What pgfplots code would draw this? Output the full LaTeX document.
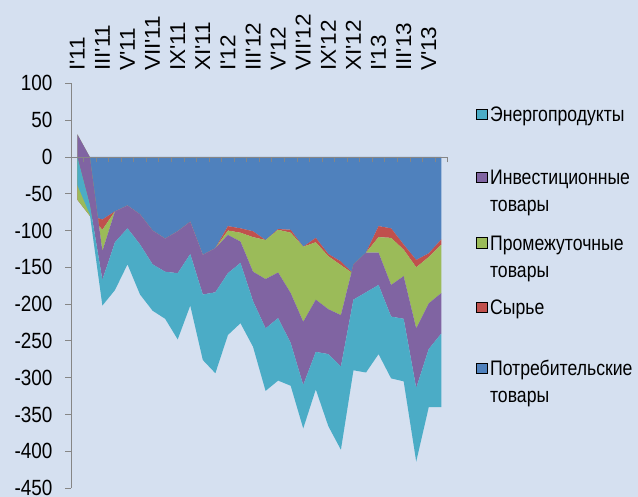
\documentclass[border=0pt]{standalone}
\usepackage{pgfplots}
\pgfplotsset{compat=1.18}
\usepackage{pgfplotstable}
\usepackage{fontspec}
\setmainfont{Liberation Sans}
\newfontfamily\tickf{Liberation Sans}[FakeStretch=0.86]
\newfontfamily\legf{Liberation Sans}[FakeStretch=0.84]
\newfontfamily\xlabf{Liberation Sans}[FakeStretch=1.05]
\definecolor{bgc}{RGB}{213,224,240}
\definecolor{cBlue}{RGB}{79,129,189}
\definecolor{cRed}{RGB}{192,80,77}
\definecolor{cGreen}{RGB}{155,187,89}
\definecolor{cPurple}{RGB}{128,100,162}
\definecolor{cCyan}{RGB}{75,172,198}
\definecolor{axc}{RGB}{134,134,134}
\newcommand\tl[1]{\begin{tabular}[t]{@{}l@{}}#1\end{tabular}}
% b = consumer goods, r = raw materials, g = intermediate goods,
% p = investment goods, c = energy products
\pgfplotstableread{
x z b r g p c
0 0 -30 -28 89 -31 -38
1 0 -80 0 80 -65 -13
2 0 -85 -14 -29 -39 -35
3 0 -74 0 0 -42 -65
4 0 -66 0 0 -31 -49
5 0 -78 0 0 -41 -68
6 0 -100 0 0 -46 -63
7 0 -111 0 0 -45 -64
8 0 -101 0 0 -57 -90
9 0 -88 0 0 -44 -70
10 0 -133 0 0 -54 -89
11 0 -124 0 0 -60 -110
12 0 -94 -6 -6 -52 -84
13 0 -97 -6 -12 -29 -82
14 0 -101 -8 -47 -40 -62
15 0 -113 0 -53 -67 -85
16 0 -98 -1 -58 -62 -85
17 0 -99 -4 -82 -68 -58
18 0 -122 0 -102 -86 -59
19 0 -110 -6 -78 -71 -51
20 0 -132 -3 -72 -61 -98
21 0 -142 -5 -68 -70 -113
22 0 -159 0 13 -48 -96
23 0 -130 0 0 -54 -109
24 0 -94 -15 -21 -44 -94
25 0 -97 -13 -64 -43 -84
26 0 -119 -7 -36 -58 -85
27 0 -140 -10 -83 -81 -100
28 0 -131 -5 -63 -62 -79
29 0 -112 -7 -66 -55 -100
}\data
\pgfplotsset{
  frame/.style={at={(71pt,9pt)}, anchor=south west,
    scale only axis, width=376.6pt, height=404.6pt},
  legax/.style={frame, xmin=0, xmax=1, ymin=0, ymax=1, hide axis,
    legend style={draw=none, fill=none, inner sep=0pt, outer sep=0pt,
      font=\legf\fontsize{21}{27}\selectfont,
      nodes={inner ysep=0pt, inner xsep=3pt}, cells={anchor=base west},
      anchor=north west, at={(rel axis cs:1.0754,#1)}},
    legend image code/.code={\fill[##1] (0pt,2pt) rectangle (10.7pt,12.7pt);}},
}
\begin{document}
\begin{tikzpicture}
\fill[bgc] (0,0) rectangle (638pt,497pt);
\useasboundingbox (0,0) rectangle (638pt,497pt);
\begin{axis}[
  frame,
  xmin=-0.5, xmax=29.5, ymin=-450, ymax=100,
  stack plots=y, reverse stacked plots=false,
  axis on top,
  axis x line=middle, axis y line=left,
  x axis line style={-, draw=axc, line width=0.8pt},
  y axis line style={-, draw=axc, line width=0.8pt},
  xtick={-0.5,0.5,...,29.5}, xticklabels={},
  ytick={-450,-400,...,100},
  yticklabels={-450,-400,-350,-300,-250,-200,-150,-100,-50,0,50,100},
  tick align=outside,
  major tick length=5.5pt,
  tick style={draw=axc, line width=0.8pt},
  tick label style={font=\tickf\fontsize{22}{26}\selectfont},
  yticklabel shift=9.5pt,
]
\addplot[draw=none, forget plot] table[x=x,y=z]{\data};
\addplot[fill=cBlue, draw=none] table[x=x,y=b]{\data} \closedcycle;
\addplot[fill=cRed, draw=none] table[x=x,y=r]{\data} \closedcycle;
\addplot[fill=cGreen, draw=none] table[x=x,y=g]{\data} \closedcycle;
\addplot[fill=cPurple, draw=none] table[x=x,y=p]{\data} \closedcycle;
\addplot[fill=cCyan, draw=none] table[x=x,y=c]{\data} \closedcycle;
\end{axis}
\begin{axis}[
  frame,
  xmin=-0.5, xmax=29.5, ymin=-450, ymax=100,
  axis x line*=top, axis y line=none, ytick=\empty,
  x axis line style={draw=none},
  xtick={0,2,...,28},
  xticklabels={I\textquotesingle11,III\textquotesingle11,V\textquotesingle11,VII\textquotesingle11,IX\textquotesingle11,XI\textquotesingle11,I\textquotesingle12,III\textquotesingle12,V\textquotesingle12,VII\textquotesingle12,IX\textquotesingle12,XI\textquotesingle12,I\textquotesingle13,III\textquotesingle13,V\textquotesingle13},
  major x tick style={draw=none},
  xticklabel style={rotate=90, anchor=west, font=\xlabf\fontsize{21.5}{25}\selectfont},
  xticklabel shift=9pt,
]
\end{axis}
\begin{axis}[legax=0.9525]
\addlegendimage{fill=cCyan}
\addlegendentry{\tl{Энергопродукты}}
\end{axis}
\begin{axis}[legax=0.7968]
\addlegendimage{fill=cPurple}
\addlegendentry{\tl{Инвестиционные\\товары}}
\end{axis}
\begin{axis}[legax=0.6349]
\addlegendimage{fill=cGreen}
\addlegendentry{\tl{Промежуточные\\товары}}
\end{axis}
\begin{axis}[legax=0.4756]
\addlegendimage{fill=cRed}
\addlegendentry{\tl{Сырье}}
\end{axis}
\begin{axis}[legax=0.3248]
\addlegendimage{fill=cBlue}
\addlegendentry{\tl{Потребительские\\товары}}
\end{axis}
\end{tikzpicture}
\end{document}
